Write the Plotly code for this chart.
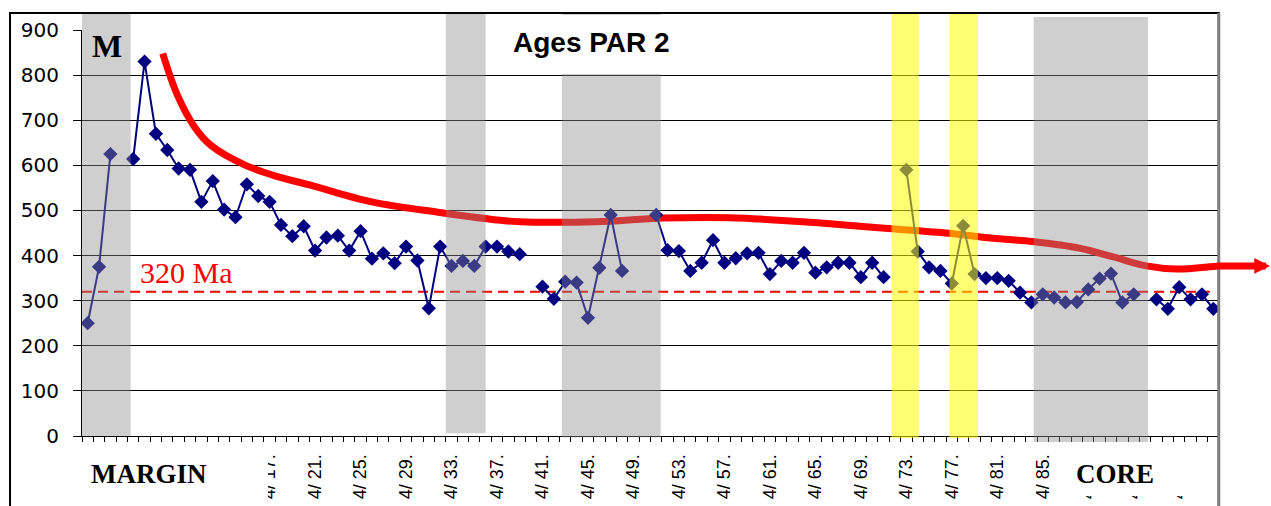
import plotly.graph_objects as go

# Sample index along the traverse (margin -> core) and measured ages (Ma)
sample_idx = list(range(100))
ages = [
    250, 375, 625, None, 614, 830, 670, 634, 593, 590,
    519, 565, 502, 485, 558, 532, 519, 468, 443, 465,
    411, 440, 444, 411, 454, 393, 405, 383, 420, 389,
    283, 420, 377, 388, 377, 420, 420, 409, 403, None,
    331, 304, 342, 340, 262, 373, 490, 366, None, None,
    490, 412, 410, 366, 384, 434, 384, 394, 405, 406,
    359, 388, 384, 406, 362, 374, 384, 384, 352, 384,
    352, None, 590, 409, 374, 366, 338, 466, 359, 350,
    350, 344, 318, 296, 314, 307, 296, 297, 325, 349,
    360, 296, 314, None, 303, 282, 330, 303, 314, 282,
]

# Tick labels (every 4th sample)
tick_pos = [0, 4, 8, 12, 16, 20, 24, 28, 32, 36, 40, 44, 48, 52, 56, 60, 64, 68, 72, 76, 80, 84, 88, 92, 96]
tick_text = ["4/ 1.", "4/ 5.", "4/ 9.", "4/ 13.", "4/ 17.", "4/ 21.", "4/ 25.", "4/ 29.", "4/ 33.",
             "4/ 37.", "4/ 41.", "4/ 45.", "4/ 49.", "4/ 53.", "4/ 57.", "4/ 61.", "4/ 65.", "4/ 69.",
             "4/ 73.", "4/ 77.", "4/ 81.", "4/ 85.", "4/ 89.", "4/ 93.", "4/ 97."]

# Hand-drawn trend curve
trend_x = [6.6, 7.9, 9.4, 10.8, 13.8, 16.7, 19.6, 25.0, 30.8, 36.7, 39.3, 44.7, 50.6,
           56.5, 59.1, 64.5, 70.4, 76.3, 78.9, 83.1, 87.3, 90.2, 93.1, 95.8, 99.6, 100.5]
trend_y = [848, 755, 685, 645, 601, 575, 556, 519, 496, 477, 474, 475, 483,
           484, 481, 472, 460, 448, 440, 431, 416, 397, 377, 370, 377, 377]

ref_age = 320
ref_label = "320 Ma"

# Highlighted sample ranges (start, end in sample units; vertical extent in paper units)
gray_bands = [(-0.8, 3.78, 0.0, 1.042), (31.5, 35.0, 0.007, 1.044),
              (41.7, 50.4, -0.003, 1.042), (83.2, 93.25, -0.015, 1.032)]
yellow_bands = [(70.7, 73.1, -0.005, 1.042), (75.8, 78.3, -0.005, 1.042)]

fig = go.Figure()

fig.add_trace(go.Scatter(
    x=[-0.5, 98.7], y=[ref_age, ref_age], mode="lines",
    line=dict(color="#ff0000", width=2, dash="10px,6px"), hoverinfo="skip"))

fig.add_trace(go.Scatter(
    x=trend_x, y=trend_y, mode="lines",
    line=dict(color="#ff0000", width=7, shape="spline", smoothing=1.0), hoverinfo="skip"))

fig.add_trace(go.Scatter(
    x=sample_idx, y=ages, mode="lines+markers", connectgaps=False,
    line=dict(color="#000080", width=2),
    marker=dict(symbol="diamond", size=11, color="#000080")))

shapes = []
for x0, x1, y0, y1 in gray_bands:
    shapes.append(dict(type="rect", xref="x", yref="paper", x0=x0, x1=x1, y0=y0, y1=y1,
                       fillcolor="rgba(140,140,140,0.42)", line=dict(width=0), layer="above"))
for x0, x1, y0, y1 in yellow_bands:
    shapes.append(dict(type="rect", xref="x", yref="paper", x0=x0, x1=x1, y0=y0, y1=y1,
                       fillcolor="rgba(255,255,0,0.55)", line=dict(width=0), layer="above"))

# Title box, margin/core label boxes
for x0, x1, y0, y1 in [(0.3588, 0.5699, 0.8916, 1.037),
                       (-0.012, 0.1636, -0.207, -0.027),
                       (0.853, 0.9956, -0.1478, -0.0345)]:
    shapes.append(dict(type="rect", xref="paper", yref="paper", x0=x0, x1=x1, y0=y0, y1=y1,
                       fillcolor="white", line=dict(width=0), layer="above"))

# Chart frame
shapes.append(dict(type="rect", xref="paper", yref="paper", x0=-0.0633, x1=0.9998, y0=-0.3, y1=1.042,
                   fillcolor="rgba(0,0,0,0)", line=dict(color="black", width=2), layer="above"))
shapes.append(dict(type="line", xref="paper", yref="paper", x0=0.9998, x1=0.9998, y0=1.042, y1=-0.3,
                   line=dict(color="#808080", width=3), layer="above"))

annotations = [
    dict(text="<b>Ages PAR 2</b>", xref="paper", yref="paper", x=0.4481, y=0.970,
         xanchor="center", yanchor="middle",
         showarrow=False, font=dict(family="Liberation Sans", size=28, color="black")),
    dict(text="<b>M</b>", xref="paper", yref="paper", x=0.0224, y=0.9606,
         xanchor="center", yanchor="middle",
         showarrow=False, font=dict(family="Liberation Serif", size=32, color="black")),
    dict(text="<b>MARGIN</b>", xref="paper", yref="paper", x=0.0585, y=-0.0936,
         xanchor="center", yanchor="middle",
         showarrow=False, font=dict(family="Liberation Serif", size=27, color="black")),
    dict(text="<b>CORE</b>", xref="paper", yref="paper", x=0.9081, y=-0.0936,
         xanchor="center", yanchor="middle",
         showarrow=False, font=dict(family="Liberation Serif", size=27, color="black")),
    dict(text=ref_label, xref="paper", yref="paper", x=0.0493, y=0.4015,
         xanchor="left", yanchor="middle",
         showarrow=False, font=dict(family="Liberation Serif", size=30, color="#ff0000")),
    dict(text="", xref="paper", yref="y", x=1.0453, y=trend_y[-1], ax=-55, ay=0,
         showarrow=True, arrowcolor="#ff0000", arrowwidth=7, arrowhead=2, arrowsize=0.45,
         standoff=0),
]

fig.update_layout(
    width=1271, height=506,
    margin=dict(l=82, r=52, t=30, b=70, autoexpand=False),
    paper_bgcolor="white", plot_bgcolor="white",
    showlegend=False,
    shapes=shapes, annotations=annotations,
    xaxis=dict(
        range=[-0.5, 99.5], tickmode="array", tickvals=tick_pos, ticktext=tick_text,
        tickangle=-90, ticks="", showgrid=False, zeroline=False, automargin=False,
        showline=True, linecolor="black", linewidth=1,
        tickfont=dict(family="Liberation Sans", size=18, color="black"),
        ticklabelstandoff=10,
        minor=dict(tickmode="array", tickvals=[v - 0.5 for v in range(101)],
                   ticks="outside", ticklen=5, tickcolor="black", tickwidth=1),
    ),
    yaxis=dict(
        range=[0, 900], tickmode="linear", tick0=0, dtick=100, automargin=False,
        showgrid=True, gridcolor="black", gridwidth=1, zeroline=False,
        showline=True, linecolor="black", linewidth=1,
        ticks="outside", ticklen=8, tickcolor="black",
        tickfont=dict(family="DejaVu Sans", size=20, color="black"),
        ticklabelstandoff=10,
    ),
)

fig.write_html("out.html")
